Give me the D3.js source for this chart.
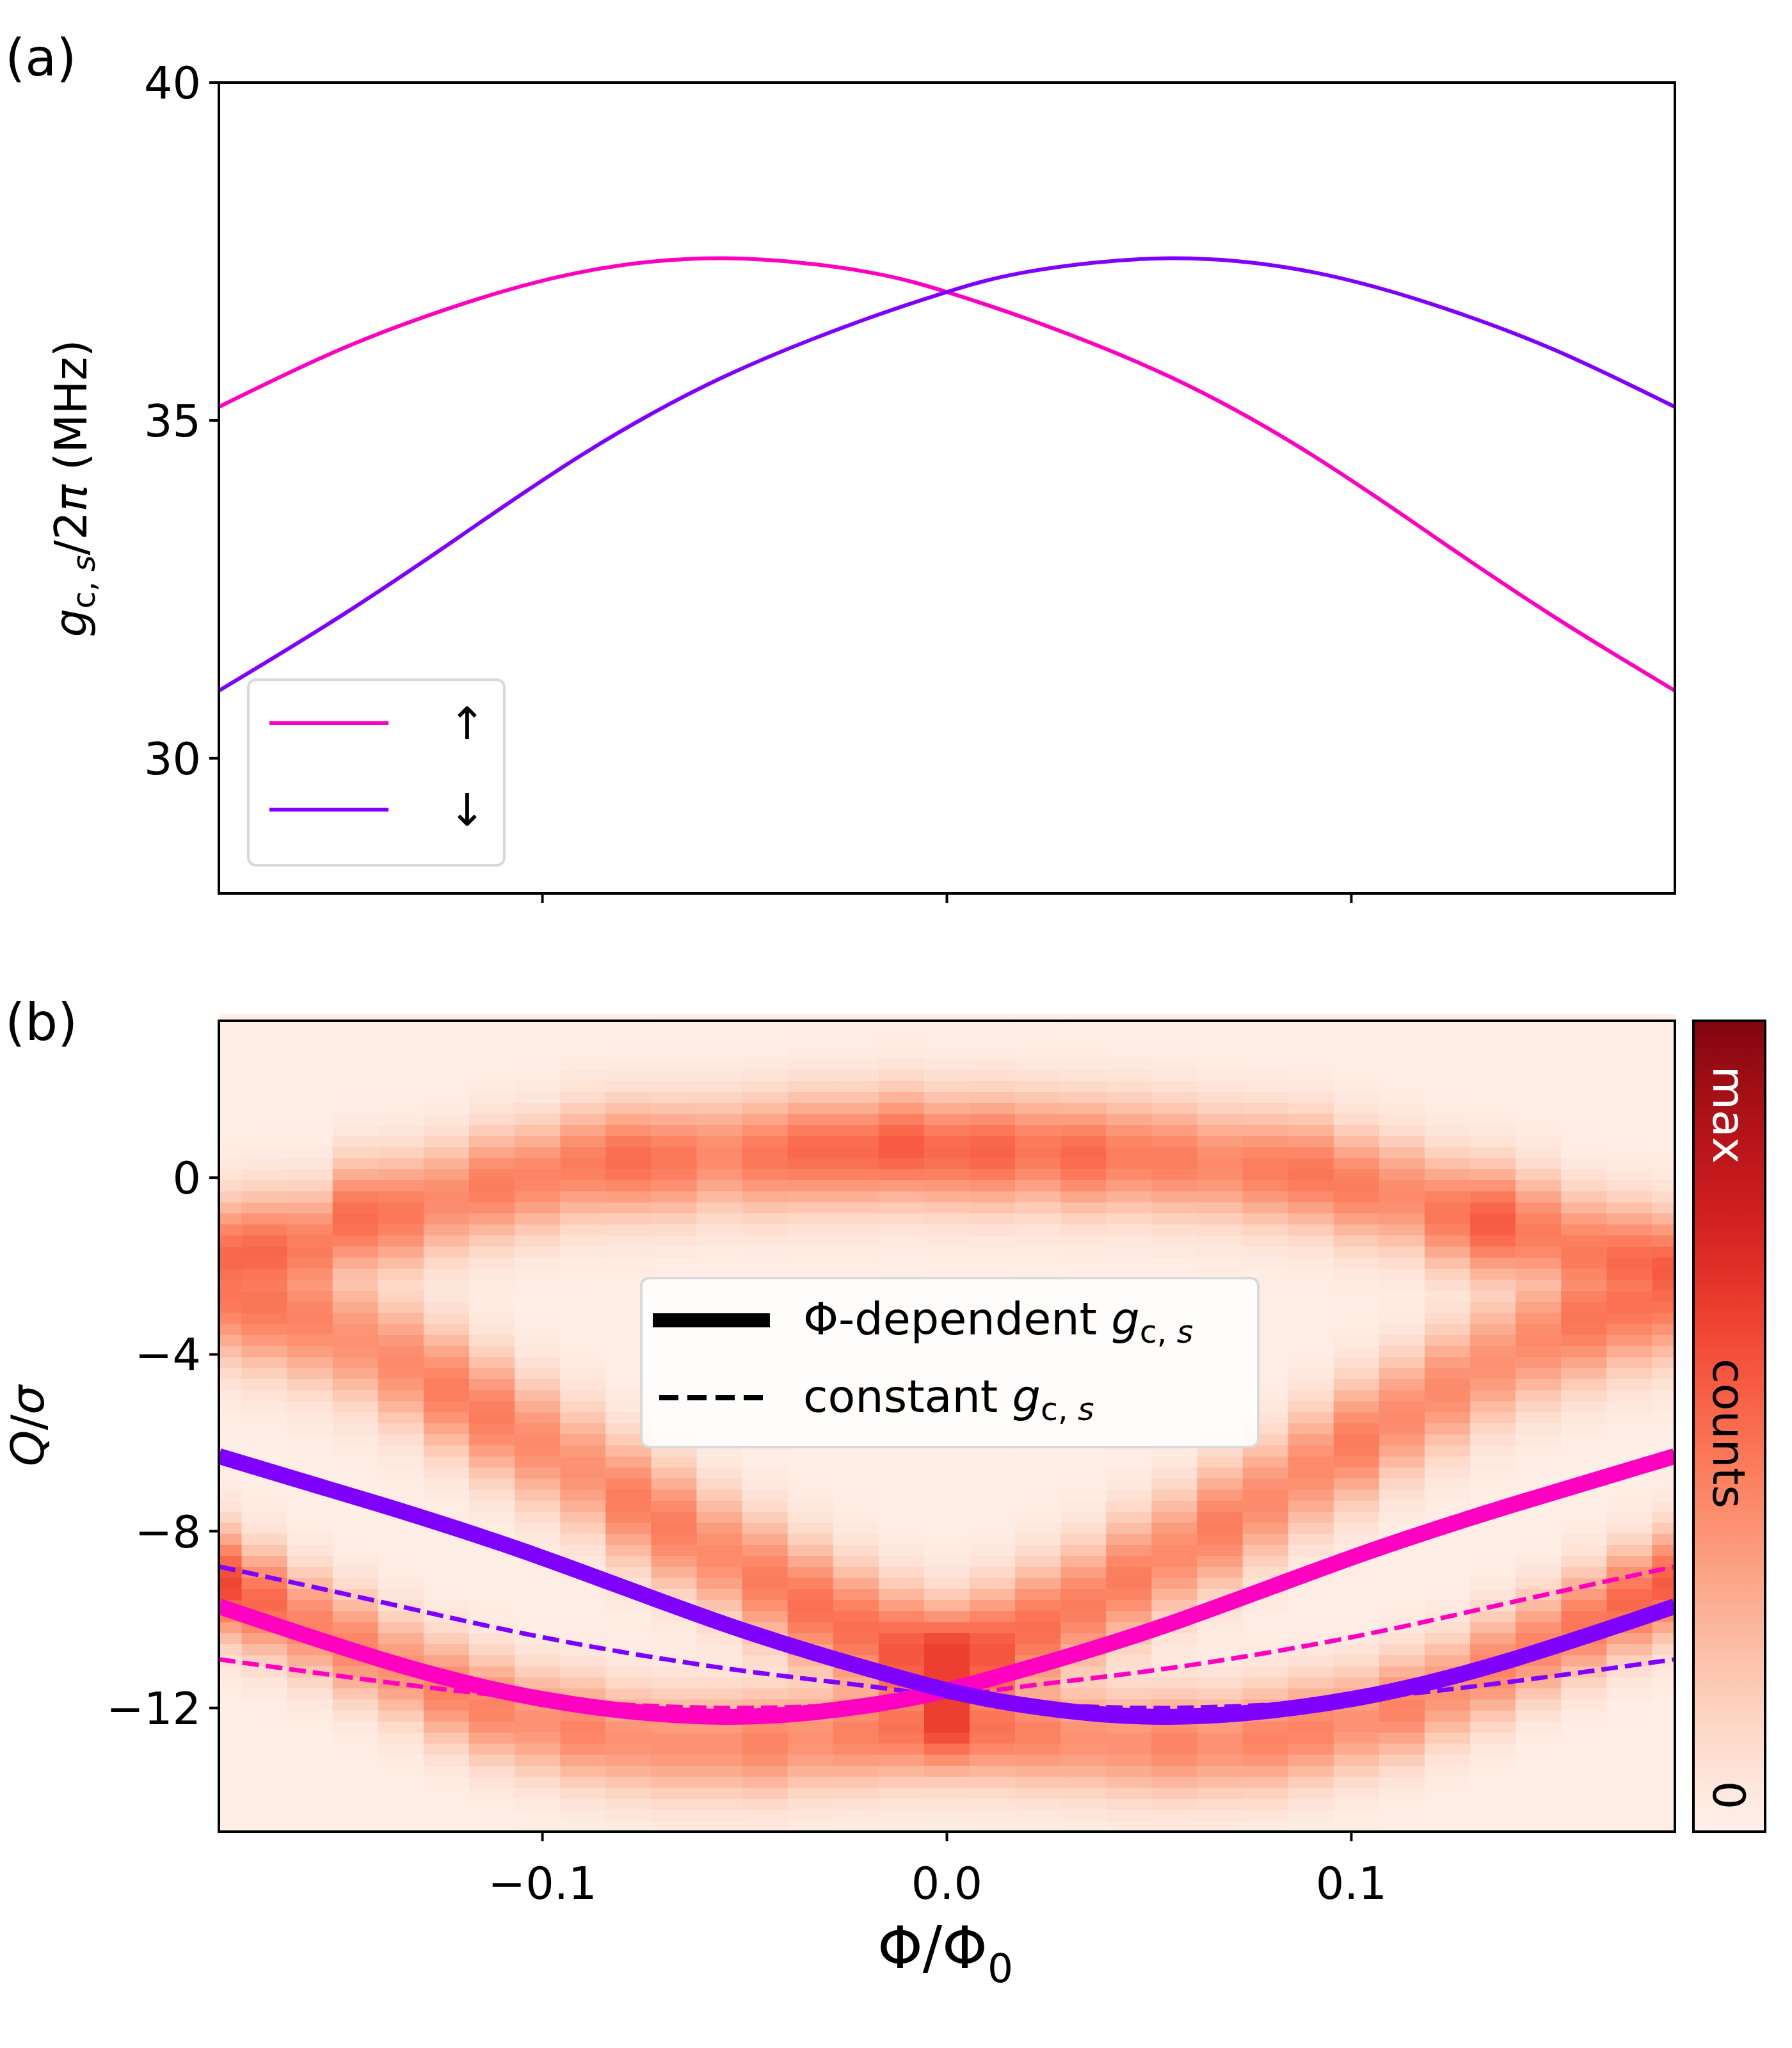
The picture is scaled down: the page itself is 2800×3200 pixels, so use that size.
<!DOCTYPE html>
<html><head><meta charset="utf-8">
<script src="https://cdn.jsdelivr.net/npm/d3@7"></script>
<style>body{margin:0;background:#fff}text{font-family:"DejaVu Sans",sans-serif}</style>
</head><body>
<svg id="c" width="2800" height="3200"></svg>
<script>
// ---- panel (a) data ----
const fluxA = [-0.18,-0.15,-0.12,-0.09,-0.055,-0.02,0,0.02,0.055,0.09,0.12,0.15,0.18];
const gUp   = [35.2,36.05,36.72,37.2,37.4,37.2,36.9,36.5,35.65,34.5,33.3,32.1,31.0];
const gDown = [31.0,32.1,33.3,34.5,35.65,36.5,36.9,37.2,37.4,37.2,36.72,36.05,35.2];
// ---- panel (b) lines ----
const fluxB = [-0.18,-0.14,-0.1,-0.055,-0.02,0,0.02,0.055,0.1,0.14,0.18];
const qDownThick = [-6.3,-7.4,-8.6,-10.1,-11.1,-11.6,-11.95,-12.2,-11.8,-10.9,-9.7];
const qUpThick   = [-9.7,-10.9,-11.8,-12.2,-11.95,-11.6,-11.1,-10.1,-8.6,-7.4,-6.3];
const qDownDash  = [-8.8,-9.6,-10.4,-11.1,-11.5,-11.75,-11.9,-12.0,-11.8,-11.4,-10.9];
const qUpDash    = [-10.9,-11.4,-11.8,-12.0,-11.9,-11.75,-11.5,-11.1,-10.4,-9.6,-8.8];
// ---- heatmap: per-column band centres (Q/sigma) and strengths, 33 columns ----
const colFlux = d3.range(33).map(k => -0.18 + 0.01125*k);
const upperQ = [-1.7,-1.6,-1.5,-0.9,-0.8,-0.5,-0.2,0.0,0.3,0.4,0.4,0.5,0.5,0.6,0.6,0.7,0.6,0.6,0.6,0.5,0.5,0.4,0.3,0.2,0.1,-0.2,-0.4,-0.8,-1.0,-1.2,-1.6,-1.8,-2.0];
const upperI = [0.4,0.42,0.38,0.45,0.42,0.36,0.4,0.38,0.4,0.45,0.42,0.36,0.42,0.46,0.46,0.5,0.46,0.48,0.42,0.46,0.4,0.4,0.36,0.4,0.42,0.4,0.36,0.42,0.5,0.4,0.38,0.4,0.42];
const diagLQ = [-2.8,-3.0,-3.3,-3.7,-4.2,-4.8,-5.4,-6.0,-6.6,-7.3,-7.9,-8.5,-9.1,-9.7,-10.2,-10.7,-11.2,null,null,null,null,null,null,null,null,null,null,null,null,null,null,null,null];
const diagRQ = [null,null,null,null,null,null,null,null,null,null,null,null,null,null,null,null,-11.2,-10.7,-10.2,-9.7,-9.1,-8.5,-7.9,-7.3,-6.6,-6.0,-5.4,-4.8,-4.2,-3.7,-3.3,-3.0,-2.8];
const diagI  = [0.36,0.38,0.36,0.34,0.36,0.4,0.4,0.36,0.34,0.4,0.4,0.36,0.4,0.44,0.44,0.5,0.56,0.5,0.44,0.4,0.4,0.36,0.4,0.36,0.36,0.4,0.36,0.36,0.34,0.36,0.4,0.38,0.36];
const lowerQ = [-9.2,-9.6,-10.1,-10.6,-11.1,-11.6,-12.0,-12.3,-12.5,-12.7,-12.8,-12.8,-12.8,-12.7,-12.6,-12.5,-12.4,-12.5,-12.6,-12.7,-12.8,-12.8,-12.8,-12.7,-12.5,-12.3,-12.0,-11.6,-11.1,-10.6,-10.1,-9.6,-9.2];
const lowerI = [0.56,0.46,0.38,0.38,0.34,0.38,0.38,0.34,0.38,0.34,0.34,0.34,0.38,0.34,0.38,0.4,0.44,0.4,0.38,0.34,0.34,0.38,0.34,0.38,0.38,0.34,0.38,0.34,0.38,0.38,0.42,0.46,0.5];
const yTicksA = [30,35,40], yTicksB = [0,-4,-8,-12], xTicks = [-0.1,0.0,0.1];

const svg = d3.select("#c");
const L=342,R=2617, aT=129,aB=1396, bT=1595,bB=2862;
const x = d3.scaleLinear().domain([-0.18,0.18]).range([L,R]);
const yA = d3.scaleLinear().domain([28,40]).range([aB,aT]);
const yB = d3.scaleLinear().domain([-14.8,3.55]).range([bB,bT]);
const fs=70;
const minus = s => s.replace("-","\u2212");

// heatmap
const g = svg.append("g");
const dq=0.25;
const rows = d3.range(-14.8, 3.55, dq);
colFlux.forEach((f,k)=>{
  const x0 = Math.max(L, x(f-0.005625)), x1 = Math.min(R, x(f+0.005625));
  rows.forEach(q=>{
    const qc=q+dq/2;
    const gs=(c,s)=> c==null?0:Math.exp(-((qc-c)**2)/(2*s*s));
    const parts=[upperI[k]*gs(upperQ[k],0.9), diagI[k]*gs(diagLQ[k],1.0), diagI[k]*gs(diagRQ[k],1.0), lowerI[k]*gs(lowerQ[k],0.85)];
    const m=d3.max(parts), s=d3.sum(parts);
    let v = 0.04 + m + 0.3*(s-m);
    v = Math.min(v,0.62);
    g.append("rect").attr("x",x0).attr("width",x1-x0+0.6)
     .attr("y",yB(q+dq)).attr("height",yB(q)-yB(q+dq)+0.6)
     .attr("fill",d3.interpolateReds(v));
  });
});

// panel a lines
const lineA = d3.line().x((d,i)=>x(fluxA[i])).y(d=>yA(d)).curve(d3.curveNatural);
svg.append("path").attr("d",lineA(gUp)).attr("fill","none").attr("stroke","#ff00c0").attr("stroke-width",6);
svg.append("path").attr("d",lineA(gDown)).attr("fill","none").attr("stroke","#7f00ff").attr("stroke-width",6);

// panel b lines
const lineB = d3.line().x((d,i)=>x(fluxB[i])).y(d=>yB(d)).curve(d3.curveNatural);
svg.append("clipPath").attr("id","cb").append("rect").attr("x",L).attr("y",bT).attr("width",R-L).attr("height",bB-bT);
const lb = svg.append("g").attr("clip-path","url(#cb)");
lb.append("path").attr("d",lineB(qUpDash)).attr("fill","none").attr("stroke","#ff00c0").attr("stroke-width",7).attr("stroke-dasharray","26,11");
lb.append("path").attr("d",lineB(qDownDash)).attr("fill","none").attr("stroke","#7f00ff").attr("stroke-width",7).attr("stroke-dasharray","26,11");
lb.append("path").attr("d",lineB(qUpThick)).attr("fill","none").attr("stroke","#ff00c0").attr("stroke-width",25);
lb.append("path").attr("d",lineB(qDownThick)).attr("fill","none").attr("stroke","#7f00ff").attr("stroke-width",25);

// frames & axes
[[aT,aB],[bT,bB]].forEach(([t,b])=>svg.append("rect").attr("x",L).attr("y",t).attr("width",R-L).attr("height",b-t).attr("fill","none").attr("stroke","#000").attr("stroke-width",4));
function ticksX(b,labels){
  xTicks.forEach(v=>{
    svg.append("line").attr("x1",x(v)).attr("x2",x(v)).attr("y1",b).attr("y2",b+15).attr("stroke","#000").attr("stroke-width",4);
    if(labels) svg.append("text").attr("x",x(v)).attr("y",b+105).attr("text-anchor","middle").attr("font-size",fs).text(minus(d3.format(".1f")(v)));
  });
}
ticksX(aB,false); ticksX(bB,true);
yTicksA.forEach(v=>{svg.append("line").attr("x1",L-15).attr("x2",L).attr("y1",yA(v)).attr("y2",yA(v)).attr("stroke","#000").attr("stroke-width",4);
  svg.append("text").attr("x",L-28).attr("y",yA(v)).attr("dy","0.36em").attr("text-anchor","end").attr("font-size",fs).text(v);});
yTicksB.forEach(v=>{svg.append("line").attr("x1",L-15).attr("x2",L).attr("y1",yB(v)).attr("y2",yB(v)).attr("stroke","#000").attr("stroke-width",4);
  svg.append("text").attr("x",L-28).attr("y",yB(v)).attr("dy","0.36em").attr("text-anchor","end").attr("font-size",fs).text(minus(String(v)));});

// labels
svg.append("text").attr("x",8).attr("y",118).attr("font-size",80).text("(a)");
svg.append("text").attr("x",8).attr("y",1625).attr("font-size",80).text("(b)");
function gcs(sel,size){
  sel.append("tspan").attr("font-style","italic").text("g");
  sel.append("tspan").attr("font-size",size*0.7).attr("dy",size*0.18).text("c, ");
  sel.append("tspan").attr("font-size",size*0.7).attr("font-style","italic").text("s");
  return sel;
}
const ya = svg.append("text").attr("transform","translate(135,763) rotate(-90)").attr("text-anchor","middle").attr("font-size",70);
gcs(ya,70); ya.append("tspan").attr("dy",-70*0.18).text("/2"); ya.append("tspan").attr("font-style","italic").text("π"); ya.append("tspan").text(" (MHz)");
const yb = svg.append("text").attr("transform","translate(68,2228) rotate(-90)").attr("text-anchor","middle").attr("font-size",72);
yb.append("tspan").attr("font-style","italic").text("Q"); yb.append("tspan").text("/"); yb.append("tspan").attr("font-style","italic").text("σ");
const xl = svg.append("text").attr("x",1477).attr("y",3075).attr("text-anchor","middle").attr("font-size",90);
xl.append("tspan").text("Φ/Φ"); xl.append("tspan").attr("font-size",63).attr("dy",22).text("0");

// legend a
svg.append("rect").attr("x",388).attr("y",1062).attr("width",400).attr("height",290).attr("rx",12).attr("fill","#fff").attr("fill-opacity",0.8).attr("stroke","#d9d9d9").attr("stroke-width",4);
[["#ff00c0","↑",1130],["#7f00ff","↓",1265]].forEach(([c,t,yy])=>{
  svg.append("line").attr("x1",421).attr("x2",607).attr("y1",yy).attr("y2",yy).attr("stroke",c).attr("stroke-width",6);
  svg.append("text").attr("x",730).attr("y",yy).attr("dy","0.36em").attr("text-anchor","middle").attr("font-size",70).text(t);
});
// legend b
svg.append("rect").attr("x",1002).attr("y",1997).attr("width",964).attr("height",264).attr("rx",12).attr("fill","#fff").attr("fill-opacity",0.85).attr("stroke","#d9d9d9").attr("stroke-width",4);
svg.append("line").attr("x1",1020).attr("x2",1203).attr("y1",2063).attr("y2",2063).attr("stroke","#000").attr("stroke-width",22);
svg.append("line").attr("x1",1030).attr("x2",1200).attr("y1",2184).attr("y2",2184).attr("stroke","#000").attr("stroke-width",8).attr("stroke-dasharray","30,14");
const l1 = svg.append("text").attr("x",1255).attr("y",2085).attr("font-size",70); l1.append("tspan").text("Φ-dependent "); gcs(l1,70);
const l2 = svg.append("text").attr("x",1255).attr("y",2206).attr("font-size",70); l2.append("tspan").text("constant "); gcs(l2,70);

// colorbar
const cbX=2646, cbW=112;
const grad = svg.append("defs").append("linearGradient").attr("id","rg").attr("x1",0).attr("x2",0).attr("y1",1).attr("y2",0);
d3.range(0,1.001,0.05).forEach(t=>grad.append("stop").attr("offset",t).attr("stop-color",d3.interpolateReds(t*0.92+0.03)));
svg.append("rect").attr("x",cbX).attr("y",bT).attr("width",cbW).attr("height",bB-bT).attr("fill","url(#rg)").attr("stroke","#000").attr("stroke-width",4);
[["max",1742,"#fff"],["counts",2240,"#000"],["0",2805,"#000"]].forEach(([t,yy,c])=>
  svg.append("text").attr("transform",`translate(${cbX+cbW/2},${yy}) rotate(90)`).attr("text-anchor","middle").attr("dy","0.36em").attr("font-size",70).attr("fill",c).text(t));
</script>
</body></html>
